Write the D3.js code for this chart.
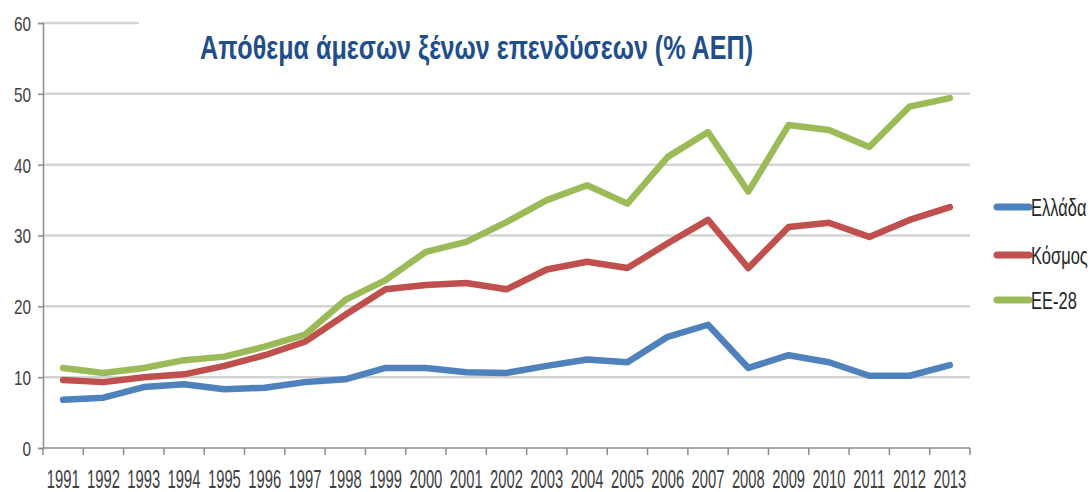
<!DOCTYPE html>
<html>
<head>
<meta charset="utf-8">
<script src="https://cdn.jsdelivr.net/npm/d3@7"></script>
<style>
  body { margin: 0; background: #fff; }
  svg { display: block; }
  text { font-family: "Liberation Sans", Arial, sans-serif; fill: #404040; }
</style>
</head>
<body>
<svg id="chart" width="1090" height="492"></svg>
<script>
const years = ['1991','1992','1993','1994','1995','1996','1997','1998','1999','2000','2001','2002',
  '2003','2004','2005','2006','2007','2008','2009','2010','2011','2012','2013'];
const greece = [6.8,7.1,8.6,9.0,8.3,8.5,9.3,9.7,11.3,11.3,10.7,10.6,11.6,12.5,12.1,15.7,17.4,11.3,13.1,12.1,10.2,10.2,11.7];
const world = [9.6,9.3,10.0,10.4,11.6,13.1,15.0,18.8,22.4,23.0,23.3,22.4,25.2,26.3,25.4,28.9,32.2,25.4,31.2,31.8,29.8,32.2,34.0];
const eu28 = [11.3,10.6,11.3,12.4,12.9,14.3,16.0,20.9,23.7,27.7,29.1,31.9,35.0,37.1,34.5,41.1,44.6,36.2,45.6,44.9,42.5,48.2,49.4];
const seriesNames = ['Ελλάδα','Κόσμος','ΕΕ-28'];
const seriesColors = ['#4f81bd','#c0504d','#9bbb59'];
const yTicks = [0,10,20,30,40,50,60];
const title = 'Απόθεμα άμεσων ξένων επενδύσεων (% ΑΕΠ)';

const svg = d3.select('#chart');
const plotLeft = 43, plotRight = 970, plotTop = 23, plotBottom = 448;

const x = d3.scaleBand().domain(years).range([plotLeft, plotRight]);
const y = d3.scaleLinear().domain([0, 60]).range([plotBottom, plotTop]);

// gridlines
svg.append('g')
  .selectAll('line')
  .data(yTicks.filter(d => d > 0))
  .join('line')
  .attr('x1', plotLeft).attr('x2', plotRight)
  .attr('y1', d => y(d)).attr('y2', d => y(d))
  .attr('stroke', '#d4d4d4')
  .attr('stroke-width', 2.5);

// y axis
const yAxis = svg.append('g')
  .attr('transform', `translate(${plotLeft},0)`)
  .call(d3.axisLeft(y).tickValues(yTicks).tickSize(5).tickPadding(0).tickFormat(d3.format('d')));
yAxis.select('.domain').attr('stroke', '#8c8c8c').attr('stroke-width', 1.5);
yAxis.selectAll('.tick line').attr('stroke', '#8c8c8c').attr('stroke-width', 1.5);
yAxis.selectAll('.tick text')
  .attr('x', -12).attr('dy', '0.36em')
  .attr('font-size', 15.3)
  .attr('transform', 'scale(1,1.36)')
  .attr('fill', '#404040');

// x axis: ticks between categories
const xAxisG = svg.append('g').attr('transform', `translate(0,${plotBottom})`);
xAxisG.append('line')
  .attr('x1', plotLeft).attr('x2', plotRight)
  .attr('stroke', '#8c8c8c').attr('stroke-width', 1.5);
xAxisG.selectAll('line.tk')
  .data(years.concat(['end']))
  .join('line')
  .attr('class', 'tk')
  .attr('x1', (d, i) => plotLeft + i * x.step()).attr('x2', (d, i) => plotLeft + i * x.step())
  .attr('y1', 0).attr('y2', 7)
  .attr('stroke', '#8c8c8c').attr('stroke-width', 1.5);
xAxisG.selectAll('text')
  .data(years)
  .join('text')
  .attr('transform', d => `translate(${x(d) + x.bandwidth() / 2},40) scale(1,1.75)`)
  .attr('text-anchor', 'middle')
  .attr('font-size', 14.8)
  .text(d => d);

// title with white backing
svg.append('rect')
  .attr('x', 139).attr('y', 12).attr('width', 840).attr('height', 62)
  .attr('fill', '#fff');
svg.append('text')
  .attr('x', 200).attr('y', 59)
  .attr('font-size', 33).attr('font-weight', 'bold')
  .attr('textLength', 553).attr('lengthAdjust', 'spacingAndGlyphs')
  .style('font-family', '"Liberation Sans Narrow", "Liberation Sans", sans-serif')
  .style('fill', '#1f4e8c')
  .text(title);

// lines
const data = [greece, world, eu28];
const line = d3.line()
  .x((d, i) => x(years[i]) + x.bandwidth() / 2)
  .y(d => y(d));

svg.append('g')
  .selectAll('path')
  .data(data)
  .join('path')
  .attr('d', line)
  .attr('fill', 'none')
  .attr('stroke', (d, i) => seriesColors[i])
  .attr('stroke-width', 6.5)
  .attr('stroke-linejoin', 'round')
  .attr('stroke-linecap', 'round');

// legend
const legendY = [207, 255, 300];
const legend = svg.append('g')
  .selectAll('g')
  .data(seriesNames)
  .join('g')
  .attr('transform', (d, i) => `translate(997,${legendY[i]})`);
legend.append('line')
  .attr('x1', 0).attr('x2', 32)
  .attr('stroke', (d, i) => seriesColors[i])
  .attr('stroke-width', 7)
  .attr('stroke-linecap', 'round');
legend.append('text')
  .attr('transform', 'translate(34,9) scale(1,1.5)')
  .attr('font-size', 16.5)
  .style('fill', '#262626')
  .text(d => d);
</script>
</body>
</html>
